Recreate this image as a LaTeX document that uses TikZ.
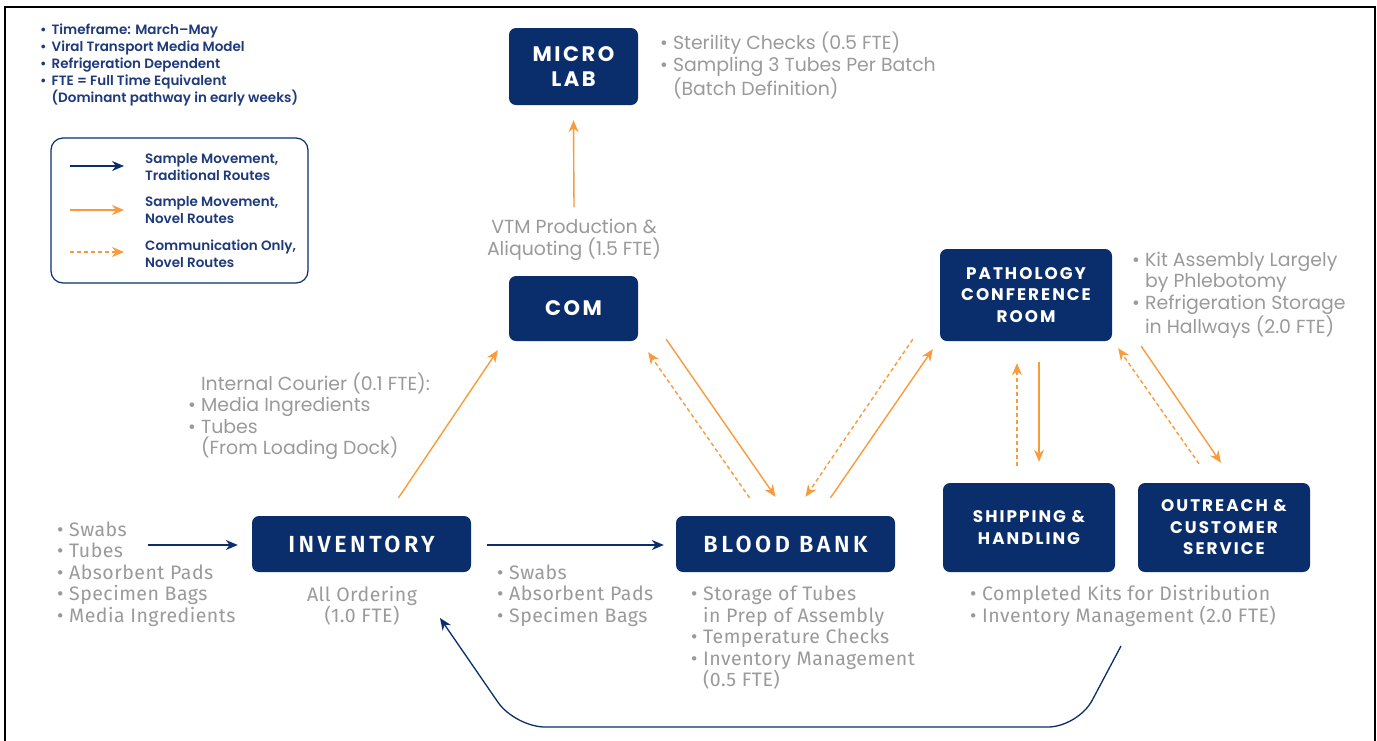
\documentclass[tikz,border=0pt]{standalone}
\usepackage{fontspec}
\setmainfont{Fira Sans}[LetterSpace=2.5]
\newfontfamily\wfont{Poppins}
\newfontfamily\wsemi{Poppins SemiBold}
\newfontfamily\wlabel{Poppins}[LetterSpace=12]
\newfontfamily\plabel{Fira Sans SemiBold}[LetterSpace=15]
\usetikzlibrary{arrows.meta,calc}
\definecolor{navy}{HTML}{0A2D6B}
\definecolor{orng}{HTML}{F99B3B}
\definecolor{gtxt}{HTML}{9A9A9A}
\definecolor{legtxt}{HTML}{1E3A7B}
\begin{document}
\begin{tikzpicture}[x=1pt,y=-1pt,
  box/.style={fill=navy, rounded corners=7pt, text=white, align=center, inner sep=0pt},
  wbox/.style={box, font=\wlabel\bfseries\fontsize{21}{25}\selectfont},
  sbox/.style={box, font=\wlabel\bfseries\fontsize{16.8}{21.5}\selectfont},
  pbox/.style={box, font=\plabel\fontsize{23.3}{25}\selectfont},
  gnote/.style={text=gtxt, align=left, inner sep=0pt, font=\wfont\fontsize{18.9}{21.5}\selectfont},
  pnote/.style={text=gtxt, align=left, inner sep=0pt, font=\fontsize{19.5}{21.5}\selectfont},
  tip/.style={-{Stealth[length=12pt,width=10pt]}},
  nav/.style={draw=navy, line width=1.3pt, tip},
  nov/.style={draw=orng, line width=1.4pt, tip},
  comm/.style={nov, dash pattern=on 4pt off 3pt},
  legtext/.style={text=legtxt, align=left, inner sep=0pt, font=\wsemi\fontsize{13.5}{17}\selectfont}
]
\useasboundingbox (0,0) rectangle (1377,740);
\fill[white] (0,0) rectangle (1377,740);
% outer frame, open at the bottom
\draw[line width=2.5pt] (5,745) -- (5,7) -- (1375,7) -- (1375,745);

% notes and legend
\node[legtext, anchor=west] (notes) at (40,65) {•\hspace{5pt}Timeframe: March–May\\•\hspace{5pt}Viral Transport Media Model\\•\hspace{5pt}Refrigeration Dependent\\•\hspace{5pt}FTE = Full Time Equivalent\\\phantom{•}\hspace{5pt}(Dominant pathway in early weeks)};
\node[draw=navy, line width=1.2pt, rounded corners=12pt, minimum width=257pt, minimum height=145pt, inner sep=0pt] (legend) at (179.5,210.5) {};
\draw[nav] (70,166) -- (124,166);
\draw[nov] (70,210) -- (124,210);
\draw[comm] (70,252) -- (124,252);
\node[legtext, anchor=west] (l1) at (145,167.5) {Sample Movement,\\Traditional Routes};
\node[legtext, anchor=west] (l2) at (145,210.5) {Sample Movement,\\Novel Routes};
\node[legtext, anchor=west] (l3) at (145,253.5) {Communication Only,\\Novel Routes};

% boxes
\node[wbox, minimum width=129pt, minimum height=77pt] (micro) at (573.5,66.5) {MICRO\\LAB};
\node[wbox, minimum width=129pt, minimum height=65pt] (com) at (573.5,308.5) {COM};
\node[sbox, minimum width=172pt, minimum height=92pt] (path) at (1026,295) {PATHOLOGY\\CONFERENCE\\ROOM};
\node[pbox, minimum width=219pt, minimum height=56pt] (inv) at (361.5,544) {INVENTORY};
\node[pbox, minimum width=219pt, minimum height=56pt] (bb) at (785.5,544) {BLOOD BANK};
\node[sbox, minimum width=172pt, minimum height=89pt] (ship) at (1029,527.5) {SHIPPING \&\\HANDLING};
\node[sbox, minimum width=172pt, minimum height=89pt] (out) at (1224,527.5) {OUTREACH \&\\CUSTOMER\\SERVICE};

% grey annotations
\node[gnote, anchor=west] (micronote) at (660,65.5) {• Sterility Checks (0.5 FTE)\\• Sampling 3 Tubes Per Batch\\\phantom{• }(Batch Definition)};
\node[gnote, align=center] (vtm) at (574,240) {VTM Production \&\\Aliquoting (1.5 FTE)};
\node[gnote, anchor=west] (courier) at (188,416) {\phantom{• }Internal Courier (0.1 FTE):\\• Media Ingredients\\• Tubes\\\phantom{• }(From Loading Dock)};
\node[gnote, anchor=west] (pathnote) at (1132,295) {• Kit Assembly Largely\\\phantom{• }by Phlebotomy\\• Refrigeration Storage\\\phantom{• }in Hallways (2.0 FTE)};
\node[pnote, anchor=west] (supplies) at (57,574) {• Swabs\\• Tubes\\• Absorbent Pads\\• Specimen Bags\\• Media Ingredients};
\node[pnote, align=center] (ordering) at (362,606) {All Ordering\\(1.0 FTE)};
\node[pnote, anchor=west] (tobb) at (497,595.5) {• Swabs\\• Absorbent Pads\\• Specimen Bags};
\node[pnote, anchor=west] (bbnote) at (691,638) {• Storage of Tubes\\\phantom{• }in Prep of Assembly\\• Temperature Checks\\• Inventory Management\\\phantom{• }(0.5 FTE)};
\node[pnote, anchor=west] (shipnote) at (970,606) {• Completed Kits for Distribution\\• Inventory Management (2.0 FTE)};

% connectors
\coordinate (inflow) at (148,545);
\draw[nav] (inflow) -- ([shift={(-14,1)}]inv.west);
\draw[nav] ([shift={(16,1)}]inv.east) -- ([shift={(-12,1)}]bb.west);
\draw[nov] ([shift={(37,-18)}]inv.north) -- ([shift={(-11,9)}]com.south west);
\draw[nov] ([yshift=12pt]vtm.north) -- ([yshift=-15pt]micro.south);
\draw[nov] ([shift={(28,-2)}]com.south east) -- ([shift={(-10,-19)}]bb.north);
\draw[comm] ([shift={(-36,-18)}]bb.north) -- ([shift={(10,11)}]com.south east);
\draw[nov] ([shift={(45,-18)}]bb.north) -- ([shift={(-7,8)}]path.south west);
\draw[comm] ([shift={(-27,-2)}]path.south west) -- ([shift={(20,-19)}]bb.north);
\draw[comm] ([shift={(-12,-17)}]ship.north) -- ([shift={(-9,22)}]path.south);
\draw[nov] ([shift={(13,21)}]path.south) -- ([shift={(10,-21)}]ship.north);
\draw[comm] ([shift={(-25,-19)}]out.north) -- ([shift={(6,7)}]path.south east);
\draw[nov] ([shift={(29,5)}]path.south east) -- ([shift={(-3,-20)}]out.north);
\coordinate (ret) at (1121,646);
\coordinate (retend) at (440,618);
\draw[nav, rounded corners=30pt] (ret) -- (1078,727) -- (515,727) -- (retend);
\end{tikzpicture}
\end{document}
